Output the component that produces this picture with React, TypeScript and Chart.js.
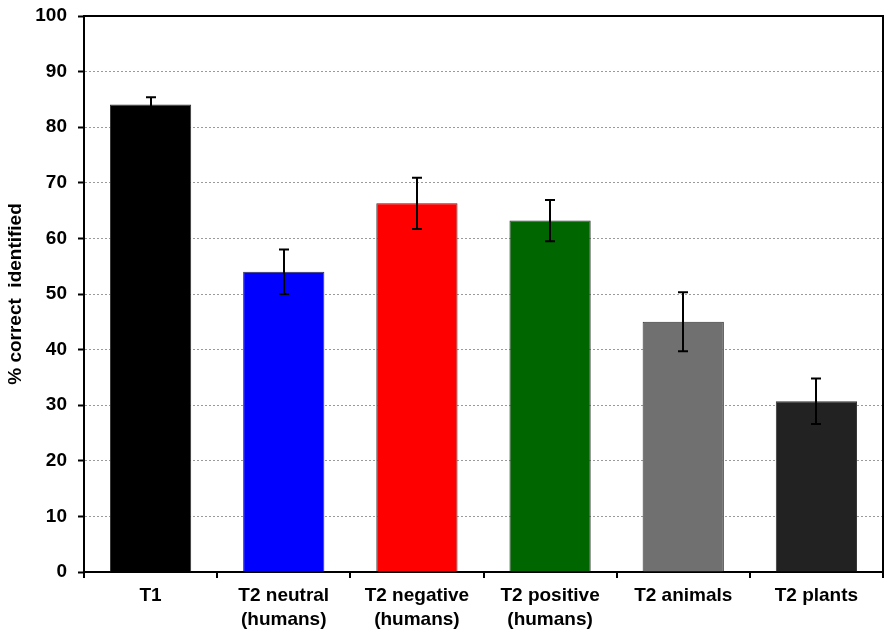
import React, { useEffect, useRef } from "react";
import { Chart, registerables } from "chart.js";

Chart.register(...registerables);

const categories: (string | string[])[] = [
  "T1",
  ["T2 neutral", "(humans)"],
  ["T2 negative", "(humans)"],
  ["T2 positive", "(humans)"],
  "T2 animals",
  "T2 plants",
];
const values = [84.1, 54.0, 66.3, 63.2, 45.0, 30.7];
const errors = [1.3, 4.0, 4.6, 3.7, 5.3, 4.1];
const barColors = ["#000000", "#0000FF", "#FF0000", "#006600", "#707070", "#222222"];
const yTitle = "% correct  identified";

const FONT = "'Liberation Sans', Arial, sans-serif";

const errorBarPlugin = {
  id: "errorBars",
  afterDatasetsDraw(chart: any) {
    const ctx = chart.ctx;
    const meta = chart.getDatasetMeta(0);
    const y = chart.scales.y;
    ctx.save();
    ctx.strokeStyle = "#000";
    ctx.lineWidth = 2;
    meta.data.forEach((bar: any, i: number) => {
      const x = Math.round(bar.x);
      const top = y.getPixelForValue(values[i] + errors[i]);
      const bot = y.getPixelForValue(values[i] - errors[i]);
      ctx.beginPath();
      ctx.moveTo(x, top);
      ctx.lineTo(x, bot);
      ctx.moveTo(x - 5, top);
      ctx.lineTo(x + 5, top);
      ctx.moveTo(x - 5, bot);
      ctx.lineTo(x + 5, bot);
      ctx.stroke();
    });
    ctx.restore();
  },
};

const framePlugin = {
  id: "frame",
  afterDraw(chart: any) {
    const { ctx, chartArea } = chart;
    ctx.save();
    ctx.strokeStyle = "#000";
    ctx.lineWidth = 2;
    ctx.beginPath();
    ctx.moveTo(chartArea.left, chartArea.top);
    ctx.lineTo(chartArea.right, chartArea.top);
    ctx.lineTo(chartArea.right, chartArea.bottom);
    ctx.stroke();
    ctx.restore();
  },
};

export default function App() {
  const ref = useRef<HTMLCanvasElement | null>(null);
  useEffect(() => {
    if (!ref.current) return;
    const chart = new Chart(ref.current, {
      type: "bar",
      data: {
        labels: categories,
        datasets: [
          {
            data: values,
            backgroundColor: barColors,
            borderColor: "#333333",
            borderWidth: 1,
            barPercentage: 0.61,
            categoryPercentage: 1,
          },
        ],
      },
      options: {
        animation: false,
        responsive: true,
        maintainAspectRatio: false,
        layout: { padding: { left: 0, right: 9, top: 16, bottom: 0 } },
        plugins: { legend: { display: false }, tooltip: { enabled: false } },
        scales: {
          x: {
            offset: true,
            grid: {
              offset: true,
              drawOnChartArea: false,
              drawTicks: true,
              tickLength: 6,
              color: "#000",
              lineWidth: 2,
            },
            border: { color: "#000", width: 2 },
            ticks: {
              color: "#000",
              padding: 5,
              maxRotation: 0,
              font: { family: FONT, size: 19, weight: "bold", lineHeight: 1.3 },
            },
            afterFit(scale: any) {
              scale.height = 66;
              scale.paddingLeft = 0;
              scale.paddingRight = 0;
            },
          },
          y: {
            min: 0,
            max: 100,
            ticks: {
              stepSize: 10,
              color: "#000",
              padding: 11,
              font: { family: FONT, size: 19, weight: "bold" },
            },
            grid: {
              color: "#9a9a9a",
              lineWidth: 1,
              tickLength: 6,
              tickColor: "#000",
              tickWidth: 2,
              tickBorderDash: [],
            },
            border: { color: "#000", width: 2, dash: [2, 2] },
            title: {
              display: true,
              text: yTitle,
              color: "#000",
              padding: { top: 4, bottom: 0 },
              font: { family: FONT, size: 19, weight: "bold" },
            },
            afterFit(scale: any) {
              scale.width = 84;
              scale.paddingTop = 0;
              scale.paddingBottom = 0;
            },
          },
        },
      },
      plugins: [errorBarPlugin, framePlugin],
    } as any);
    return () => chart.destroy();
  }, []);
  return (
    <div style={{ position: "absolute", left: 0, top: 0, width: 892, height: 638, background: "#fff" }}>
      <canvas ref={ref} />
    </div>
  );
}
